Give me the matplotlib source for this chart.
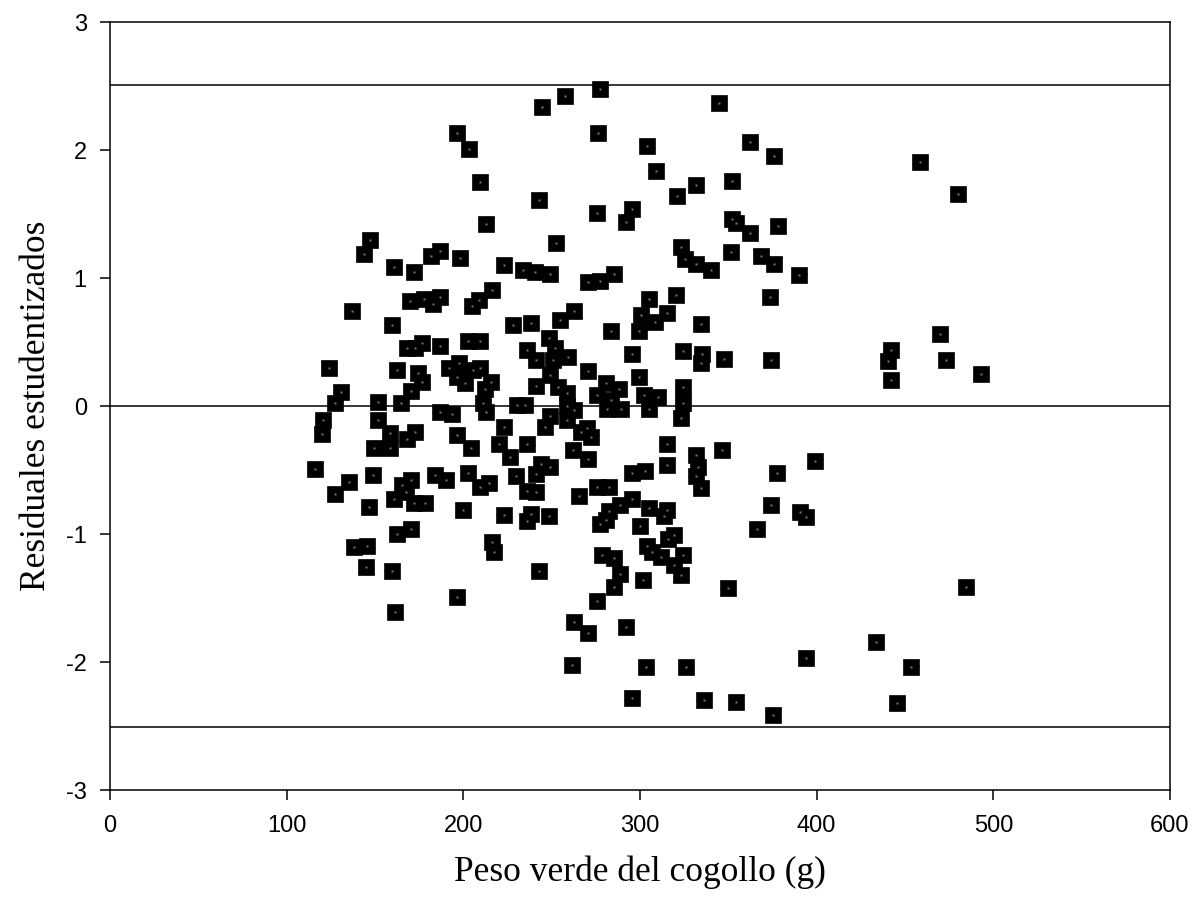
import matplotlib
matplotlib.use("Agg")
import matplotlib.pyplot as plt

plt.rcParams["axes.unicode_minus"] = False

# peso verde del cogollo (g) vs residual estudentizado
peso = [
    277.4, 257.5, 244.5, 344.7, 196.4, 203.2, 276.2, 304.0, 362.3, 375.8,
    458.5, 309.0, 209.4, 331.7, 352.0, 480.0, 242.8, 321.0, 275.7, 295.5,
    292.1, 212.8, 352.0, 354.3, 378.1, 362.3, 252.5, 351.5, 323.2, 325.5,
    331.7, 340.2, 368.5, 375.8, 390.0, 147.2, 143.8, 160.8, 172.1, 181.7,
    186.8, 197.9, 223.0, 233.8, 240.6, 249.0, 270.6, 277.4, 285.3,
    136.8, 159.4, 170.0, 177.7, 183.0, 186.8, 216.2, 208.6, 204.9, 262.6,
    254.7, 228.1, 238.3, 305.0, 300.6, 308.5, 315.3, 299.4, 283.6, 334.5,
    320.4, 373.6, 469.8, 248.5,
    167.9, 172.6, 176.6, 186.8, 202.6, 209.4, 124.0, 162.3, 174.2, 176.4,
    170.2, 130.6, 127.4, 151.5, 164.5, 191.9, 197.5, 196.4, 200.9, 205.5,
    209.4, 215.7, 212.3, 211.1, 236.0, 241.1, 251.9, 250.7, 259.2, 249.0,
    241.1, 253.6, 258.7, 230.4, 234.9, 258.7, 270.6, 295.5, 299.4, 280.8,
    288.1, 275.7, 283.6, 302.3, 310.2, 324.3, 335.1, 334.5, 347.5, 324.3,
    324.3, 374.2, 442.0, 440.4, 473.2, 493.0, 442.0,
    212.8, 262.6, 249.0, 246.2, 258.7, 281.3, 289.2, 305.1, 323.2, 120.4,
    119.8, 151.5, 158.5, 149.4, 158.5, 172.6, 167.9, 186.8, 193.6, 196.4,
    204.3, 223.0, 220.2, 226.4, 236.0, 262.1, 270.6, 270.0, 272.3, 266.6,
    315.3, 315.3, 331.7, 332.8, 346.4, 244.0, 249.0, 399.0,
    331.7, 334.5, 116.0, 135.1, 127.4, 148.7, 146.4, 165.1, 170.2, 167.5,
    160.8, 172.1, 178.3, 184.0, 190.2, 202.6, 209.4, 214.5, 199.8, 223.0,
    229.8, 236.0, 241.1, 241.1, 238.3, 236.0, 248.5, 265.5, 275.7, 282.5,
    295.5, 302.8, 295.5, 288.7, 282.5, 280.8, 277.4, 305.1, 315.3, 313.6,
    300.0, 377.5, 374.2, 390.6, 394.0, 366.2, 170.2, 162.3,
    319.2, 316.0, 216.2, 217.4, 242.8, 196.2, 303.7, 307.0, 311.7, 324.5,
    319.2, 323.0, 278.5, 285.3, 288.7, 285.3, 301.5, 275.5, 349.8, 262.6,
    270.6, 292.1, 261.5, 303.4, 326.0, 295.5, 336.2, 354.3, 138.1, 145.3,
    144.9, 159.4, 161.1, 484.5, 433.6, 394.0, 453.4, 445.5, 375.3,
]
residual = [
    2.48, 2.42, 2.34, 2.37, 2.13, 2.01, 2.13, 2.03, 2.06, 1.95,
    1.91, 1.84, 1.75, 1.73, 1.76, 1.66, 1.61, 1.64, 1.51, 1.54,
    1.44, 1.42, 1.46, 1.43, 1.41, 1.35, 1.27, 1.20, 1.24, 1.15,
    1.11, 1.06, 1.17, 1.11, 1.02, 1.30, 1.19, 1.09, 1.05, 1.17,
    1.21, 1.16, 1.10, 1.06, 1.05, 1.03, 0.97, 0.98, 1.03,
    0.74, 0.63, 0.82, 0.84, 0.80, 0.85, 0.91, 0.83, 0.78, 0.74,
    0.67, 0.63, 0.65, 0.84, 0.71, 0.66, 0.73, 0.59, 0.59, 0.64,
    0.87, 0.85, 0.56, 0.53,
    0.45, 0.45, 0.49, 0.47, 0.51, 0.51, 0.30, 0.28, 0.26, 0.19,
    0.12, 0.11, 0.02, 0.03, 0.02, 0.30, 0.34, 0.23, 0.18, 0.28,
    0.30, 0.19, 0.13, 0.02, 0.44, 0.36, 0.45, 0.36, 0.38, 0.24,
    0.16, 0.15, 0.10, 0.01, 0.01, 0.00, 0.27, 0.41, 0.23, 0.18,
    0.13, 0.09, 0.05, 0.09, 0.07, 0.43, 0.41, 0.34, 0.37, 0.15,
    0.02, 0.36, 0.44, 0.35, 0.36, 0.25, 0.20,
    -0.05, -0.03, -0.08, -0.16, -0.11, -0.02, -0.02, -0.02, -0.09, -0.11,
    -0.22, -0.11, -0.21, -0.33, -0.33, -0.20, -0.26, -0.05, -0.06, -0.23,
    -0.33, -0.16, -0.30, -0.40, -0.30, -0.34, -0.41, -0.17, -0.24, -0.20,
    -0.30, -0.46, -0.38, -0.48, -0.34, -0.45, -0.48, -0.43,
    -0.55, -0.64, -0.49, -0.59, -0.69, -0.54, -0.79, -0.62, -0.58, -0.67,
    -0.73, -0.76, -0.76, -0.54, -0.58, -0.52, -0.63, -0.60, -0.81, -0.85,
    -0.55, -0.66, -0.67, -0.53, -0.84, -0.90, -0.86, -0.70, -0.63, -0.63,
    -0.52, -0.51, -0.73, -0.77, -0.82, -0.89, -0.92, -0.80, -0.81, -0.86,
    -0.94, -0.52, -0.77, -0.83, -0.87, -0.96, -0.96, -1.00,
    -1.01, -1.04, -1.06, -1.14, -1.29, -1.49, -1.09, -1.14, -1.18, -1.16,
    -1.24, -1.32, -1.16, -1.19, -1.31, -1.41, -1.36, -1.52, -1.42, -1.69,
    -1.77, -1.73, -2.02, -2.04, -2.04, -2.28, -2.30, -2.31, -1.10, -1.09,
    -1.26, -1.29, -1.61, -1.41, -1.84, -1.97, -2.04, -2.32, -2.41,
]
limites = [-2.51, 0.0, 2.51]
x_ticks = [0, 100, 200, 300, 400, 500, 600]
y_ticks = [-3, -2, -1, 0, 1, 2, 3]

fig = plt.figure(figsize=(11.93, 8.99), dpi=100)
ax = fig.add_axes([0.0922, 0.1212, 0.8885, 0.8543])

for yv in limites:
    ax.axhline(yv, color="black", lw=1.1, zorder=1)

ax.plot(peso, residual, ls="none", marker="s", ms=11.5, mfc="black",
        mec="black", mew=0.5, zorder=3)
ax.plot(peso, residual, ls="none", marker="s", ms=1.6, mfc="#777777",
        mec="none", zorder=4)

ax.set_xlim(0, 600)
ax.set_ylim(-3, 3)
ax.set_xticks(x_ticks)
ax.set_yticks(y_ticks)
ax.tick_params(direction="out", length=7.2, width=1.1, labelsize=17)
ax.tick_params(axis="x", pad=11)
ax.tick_params(axis="y", pad=9.5)
for lab in ax.get_xticklabels() + ax.get_yticklabels():
    lab.set_family("Liberation Sans")
for sp in ax.spines.values():
    sp.set_linewidth(1.1)

ax.set_xlabel("Peso verde del cogollo (g)", family="Liberation Serif",
              fontsize=25.5, labelpad=13)
ax.set_ylabel("Residuales estudentizados", family="Liberation Serif",
              fontsize=25.5, labelpad=9)

fig.savefig("out.png", dpi=100)
